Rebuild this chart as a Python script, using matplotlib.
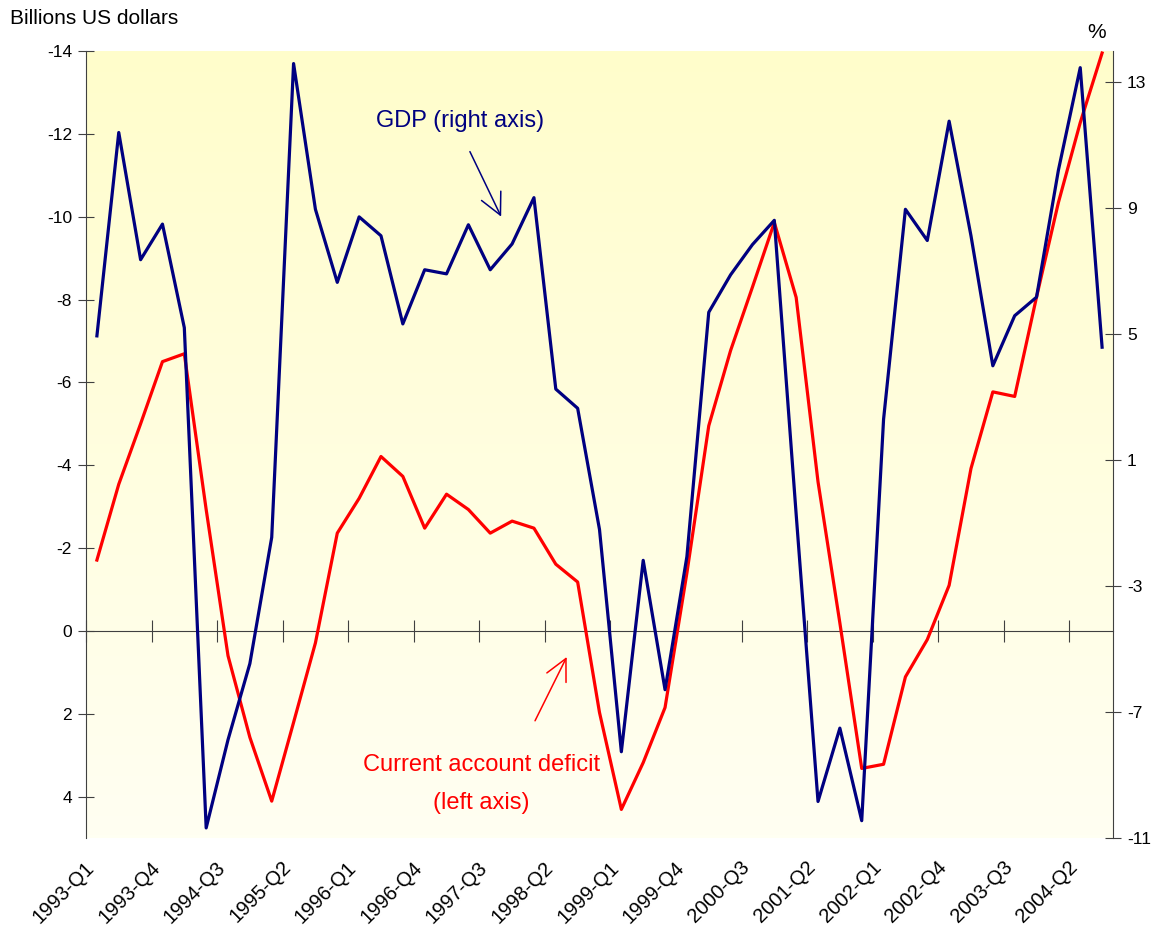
import numpy as np
import matplotlib
matplotlib.use("Agg")
import matplotlib.pyplot as plt
from matplotlib.transforms import ScaledTranslation

plt.rcParams['font.family'] = ['Liberation Sans', 'DejaVu Sans']
plt.rcParams['axes.unicode_minus'] = False

# quarterly data, 1993-Q1 .. 2004-Q3
gdp = [4.95, 11.41, 7.37, 8.5, 5.21, -10.68, -7.88, -5.46, -1.45, 13.6,
       8.97, 6.65, 8.73, 8.13, 5.33, 7.05, 6.92, 8.48, 7.05, 7.87,
       9.34, 3.26, 2.65, -1.2, -8.26, -2.18, -6.29, -2.06, 5.7, 6.89,
       7.85, 8.62, -0.72, -9.84, -7.51, -10.45, 2.3, 8.97, 7.98, 11.77,
       8.13, 4.0, 5.59, 6.18, 10.21, 13.47, 4.59]
current_account = [-1.71, -3.54, -5.0, -6.5, -6.69, -2.93, 0.6, 2.57, 4.11, 2.21,
                    0.29, -2.36, -3.2, -4.21, -3.73, -2.48, -3.3, -2.93, -2.36, -2.65,
                    -2.48, -1.61, -1.18, 1.97, 4.31, 3.18, 1.85, -1.4, -4.95, -6.77,
                    -8.3, -9.86, -8.05, -3.6, -0.19, 3.32, 3.22, 1.11, 0.21, -1.1,
                    -3.92, -5.77, -5.66, -8.06, -10.34, -12.27, -13.95]
tick_labels = ['1993-Q1', '1993-Q4', '1994-Q3', '1995-Q2', '1996-Q1', '1996-Q4',
               '1997-Q3', '1998-Q2', '1999-Q1', '1999-Q4', '2000-Q3', '2001-Q2',
               '2002-Q1', '2002-Q4', '2003-Q3', '2004-Q2']
left_ticks = list(range(-14, 5, 2))
right_ticks = list(range(-11, 14, 4))

n = len(gdp)
x = np.arange(n)

fig = plt.figure(figsize=(11.51, 9.42), dpi=100)
ax = fig.add_axes([0.0747, 0.1104, 0.8923, 0.8355])

# pale yellow gradient background
grad = np.linspace(0, 1, 256).reshape(-1, 1)
top = np.array([255, 253, 203]) / 255
bot = np.array([255, 255, 242]) / 255
img = top[None, None, :] * (1 - grad[:, :, None]) + bot[None, None, :] * grad[:, :, None]
ax.imshow(img, extent=[0, 1, 0, 1], transform=ax.transAxes, aspect='auto', zorder=0)

spine_col = '#404040'

# zero line with category tick marks
sec = ax.secondary_xaxis(0, transform=ax.transData)
sec.set_xticks(np.arange(-0.5, n - 1, 3))
sec.tick_params(axis='x', direction='inout', length=16, color=spine_col, labelbottom=False)
sec.spines['bottom'].set_color(spine_col)
sec.set_zorder(1)

ax.plot(x, current_account, color='#ff0000', lw=2.3, zorder=3)
ax.set_xlim(-0.5, n - 0.5)
ax.set_ylim(5, -14)
ax.set_yticks(left_ticks)
ax.set_yticklabels([str(v) for v in left_ticks])

ax2 = ax.twinx()
ax2.plot(x, gdp, color='#000080', lw=2.3, zorder=4)
ax2.set_ylim(-11, 14)
ax2.set_yticks(right_ticks)
ax2.set_yticklabels([str(v) for v in right_ticks])

for a in (ax, ax2):
    a.spines['top'].set_visible(False)
    a.spines['bottom'].set_visible(False)
    a.spines['left'].set_color(spine_col)
    a.spines['right'].set_color(spine_col)
ax.spines['right'].set_visible(False)
ax2.spines['left'].set_visible(False)

ax.tick_params(axis='y', direction='inout', length=12, color=spine_col, labelsize=12.5, pad=4)
ax2.tick_params(axis='y', direction='inout', length=12, color=spine_col, labelsize=12.5, pad=4)

# category labels at the bottom
ax.set_xticks(x[::3])
ax.set_xticklabels(tick_labels, rotation=45, ha='right', va='center', rotation_mode='anchor')
ax.tick_params(axis='x', length=0, labelsize=14.5, pad=19)
shift = ScaledTranslation(-4 / 72, 0, fig.dpi_scale_trans)
for lbl in ax.get_xticklabels():
    lbl.set_transform(lbl.get_transform() + shift)

# annotations
ax.text(16.6, -12.3, 'GDP (right axis)', color='#000080', fontsize=17,
        ha='center', va='center')
ax.annotate('', xy=(18.5, -10.0), xytext=(17.07, -11.57),
            arrowprops=dict(arrowstyle='->,head_length=0.7,head_width=0.35',
                            color='#000080', lw=1.1, mutation_scale=22,
                            shrinkA=0, shrinkB=0))
ax.text(17.6, 3.7, 'Current account deficit\n(left axis)', color='#ff0000',
        fontsize=17, ha='center', va='center', linespacing=1.95)
ax.annotate('', xy=(21.5, 0.63), xytext=(20.05, 2.17),
            arrowprops=dict(arrowstyle='->,head_length=0.7,head_width=0.35',
                            color='#ff0000', lw=1.1, mutation_scale=22,
                            shrinkA=0, shrinkB=0))

fig.text(10 / 1151, 1 - 18 / 942, 'Billions US dollars', fontsize=15, va='center', ha='left')
fig.text(1097 / 1151, 1 - 33 / 942, '%', fontsize=15, va='center', ha='center')

fig.savefig('out.png', dpi=100)
